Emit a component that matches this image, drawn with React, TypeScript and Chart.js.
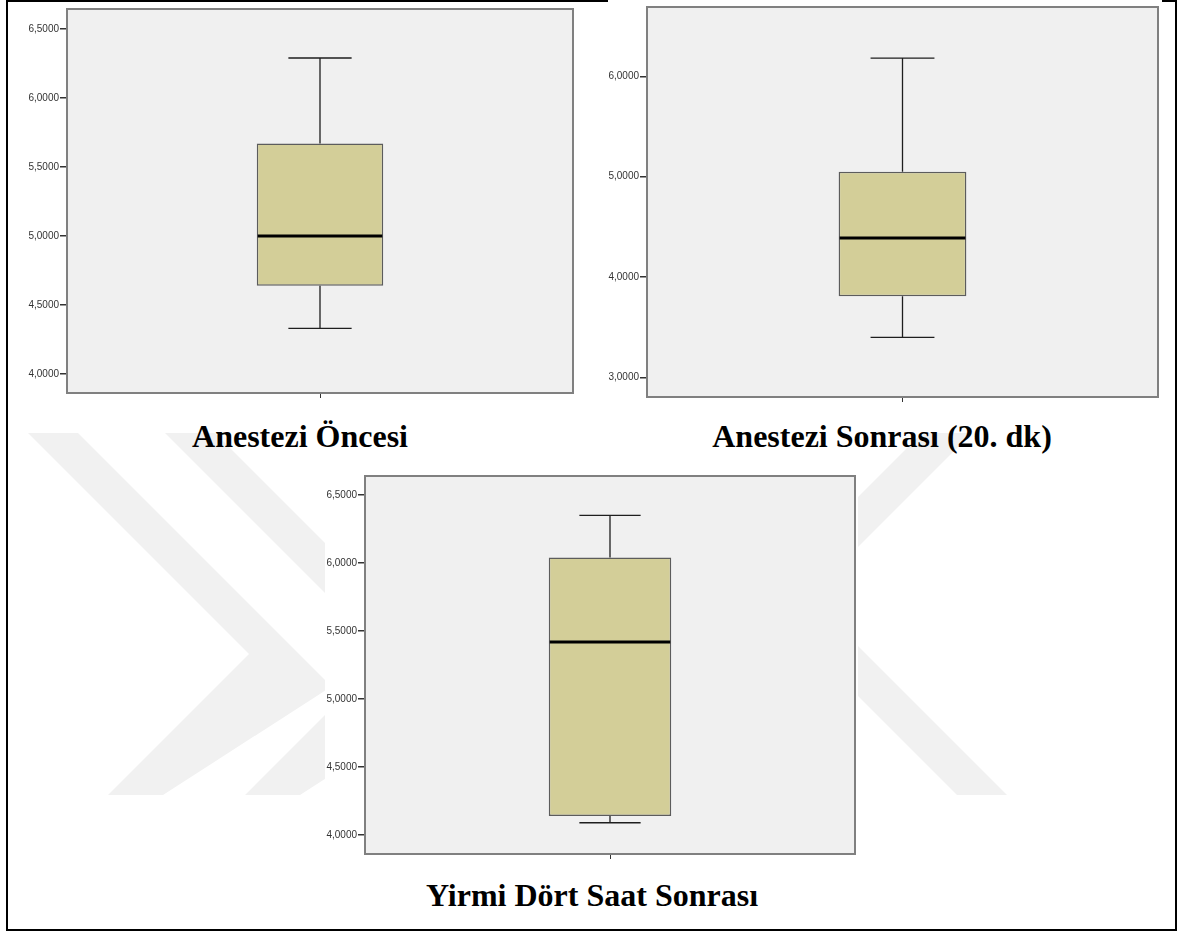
import React, { useEffect, useRef } from 'react';
import { Chart, registerables } from 'chart.js';

Chart.register(...registerables);

// ---- data ----
const titles = ['Anestezi Öncesi', 'Anestezi Sonrası (20. dk)', 'Yirmi Dört Saat Sonrası'];
const categories = [''];
const whiskerLow = [4.33, 3.4, 4.09];
const quartile1 = [4.64, 3.81, 4.14];
const medians = [5.0, 4.39, 5.42];
const quartile3 = [5.67, 5.05, 6.04];
const whiskerHigh = [6.29, 6.18, 6.35];
const axisMin = [3.862, 2.807, 3.86];
const axisMax = [6.645, 6.69, 6.64];
const tickSteps = [0.5, 1, 0.5];

// ---- layout ----
const panels = [
  { left: 9, top: 2, width: 596, height: 404, pad: { left: 0, top: 1, right: 32, bottom: 3 }, yWidth: 58, xHeight: 10 },
  { left: 608, top: 0, width: 554, height: 410, pad: { left: 0, top: 2, right: 4, bottom: 3 }, yWidth: 39, xHeight: 10 },
  { left: 325, top: 468, width: 533, height: 400, pad: { left: 0, top: 8, right: 3, bottom: 4 }, yWidth: 40, xHeight: 10 },
];
const titlePos = [
  { cx: 300, top: 420 },
  { cx: 882, top: 420 },
  { cx: 592, top: 879 },
];

const BOX_FILL = '#d3ce98';
const BOX_EDGE = '#5c5c5c';
const PLOT_BG = '#f0f0f0';
const FRAME = '#808080';

function makePlugin(i: number) {
  return {
    id: 'boxPlot' + i,
    beforeDraw(chart: any) {
      const { ctx, chartArea: a } = chart;
      ctx.save();
      ctx.fillStyle = '#ffffff';
      ctx.fillRect(0, 0, chart.width, chart.height);
      ctx.fillStyle = PLOT_BG;
      ctx.fillRect(a.left, a.top, a.right - a.left, a.bottom - a.top);
      ctx.restore();
    },
    afterDatasetsDraw(chart: any) {
      const { ctx } = chart;
      const y = chart.scales.y;
      const bar = chart.getDatasetMeta(0).data[0];
      if (!bar) return;
      const cx = bar.x;
      const w = bar.width;
      const yHi = y.getPixelForValue(whiskerHigh[i]);
      const yQ3 = y.getPixelForValue(quartile3[i]);
      const yQ1 = y.getPixelForValue(quartile1[i]);
      const yLo = y.getPixelForValue(whiskerLow[i]);
      const yMed = y.getPixelForValue(medians[i]);
      ctx.save();
      ctx.strokeStyle = '#1e1e1e';
      ctx.lineWidth = 1.3;
      ctx.beginPath();
      ctx.moveTo(cx, yHi);
      ctx.lineTo(cx, yQ3);
      ctx.moveTo(cx, yQ1);
      ctx.lineTo(cx, yLo);
      ctx.moveTo(cx - w / 4, yHi);
      ctx.lineTo(cx + w / 4, yHi);
      ctx.moveTo(cx - w / 4, yLo);
      ctx.lineTo(cx + w / 4, yLo);
      ctx.stroke();
      ctx.strokeStyle = '#000000';
      ctx.lineWidth = 3;
      ctx.beginPath();
      ctx.moveTo(cx - w / 2 + 1, yMed);
      ctx.lineTo(cx + w / 2 - 1, yMed);
      ctx.stroke();
      ctx.restore();
    },
    afterDraw(chart: any) {
      const { ctx, chartArea: a } = chart;
      ctx.save();
      ctx.strokeStyle = FRAME;
      ctx.lineWidth = 2;
      ctx.strokeRect(a.left, a.top, a.right - a.left, a.bottom - a.top);
      ctx.restore();
    },
  };
}

function BoxPanel({ i }: { i: number }) {
  const ref = useRef<HTMLCanvasElement>(null);
  const p = panels[i];
  useEffect(() => {
    if (!ref.current) return;
    const chart = new Chart(ref.current, {
      type: 'bar',
      data: {
        labels: categories,
        datasets: [
          {
            data: [[quartile1[i], quartile3[i]]] as any,
            backgroundColor: BOX_FILL,
            borderColor: BOX_EDGE,
            borderWidth: 1.5,
            borderSkipped: false,
            barPercentage: 0.25,
            categoryPercentage: 1,
          },
        ],
      },
      options: {
        responsive: false,
        animation: false,
        events: [],
        layout: { padding: p.pad },
        plugins: { legend: { display: false }, tooltip: { enabled: false } },
        scales: {
          x: {
            type: 'category',
            offset: true,
            border: { display: false },
            grid: { display: true, offset: false, drawOnChartArea: false, drawTicks: true, tickLength: 5, color: '#333333', lineWidth: 1 },
            ticks: { display: true, font: { size: 1 } },
            afterFit: (s: any) => { s.height = p.xHeight; },
          },
          y: {
            type: 'linear',
            min: axisMin[i],
            max: axisMax[i],
            bounds: 'ticks',
            border: { display: false },
            grid: { display: true, drawOnChartArea: false, drawTicks: true, tickLength: 7, color: '#333333', lineWidth: 1.5 },
            ticks: {
              stepSize: tickSteps[i],
              includeBounds: false,
              padding: 1,
              color: '#333333',
              font: { family: '"Liberation Sans", Arial, sans-serif', size: 10 },
              callback: (v: any) => Number(v).toFixed(4).replace('.', ','),
            },
            afterFit: (s: any) => { s.width = p.yWidth; },
          },
        },
      } as any,
      plugins: [makePlugin(i)],
    });
    return () => chart.destroy();
  }, [i]);
  return (
    <canvas
      ref={ref}
      width={p.width}
      height={p.height}
      style={{ position: 'absolute', left: p.left, top: p.top, width: p.width, height: p.height }}
    />
  );
}

const WM = '#f1f1f1';

export default function App() {
  return (
    <div style={{ position: 'absolute', left: 0, top: 0, width: 1178, height: 933, background: '#ffffff', overflow: 'hidden' }}>
      <svg width={1178} height={933} style={{ position: 'absolute', left: 0, top: 0 }}>
        <polygon fill={WM} points="28,433 78,433 331.5,686.5 163,795 108,795 249,654" />
        <polygon fill={WM} points="165,433 215,433 468.5,686.5 300,795 245,795 386,654" />
        <polygon fill={WM} points="922,433 972,433 808.5,596.5 1007,795 957,795 758.5,596.5" />
      </svg>
      <div
        style={{
          position: 'absolute', left: 6, top: 0, width: 1171, height: 931,
          border: '2px solid #000', boxSizing: 'border-box',
        }}
      />
      {panels.map((_, i) => (
        <BoxPanel key={i} i={i} />
      ))}
      {titles.map((t, i) => (
        <div
          key={'t' + i}
          style={{
            position: 'absolute', left: titlePos[i].cx - 250, top: titlePos[i].top, width: 500,
            textAlign: 'center', whiteSpace: 'nowrap', color: '#000',
            font: 'bold 32px "Liberation Serif", "Times New Roman", serif', lineHeight: '32px',
          }}
        >
          {t}
        </div>
      ))}
    </div>
  );
}
